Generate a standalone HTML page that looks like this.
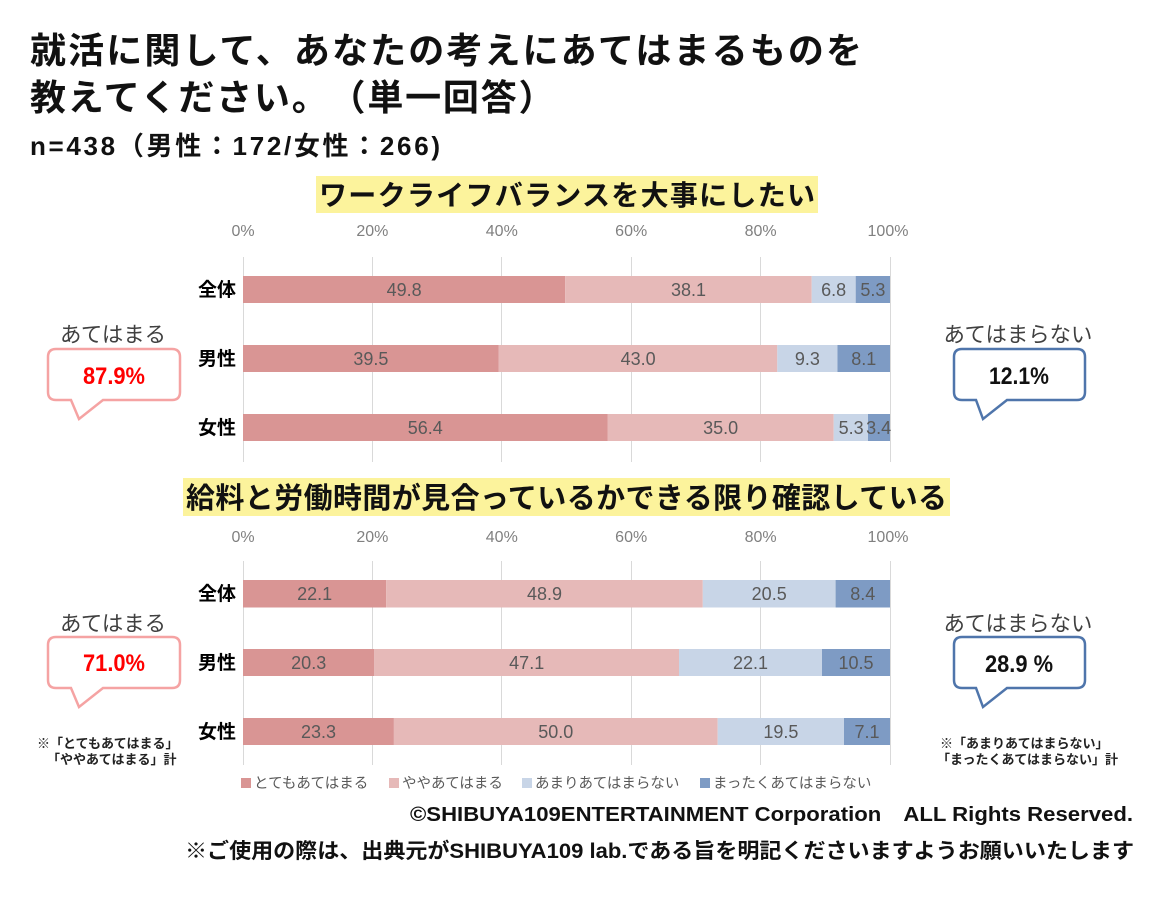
<!DOCTYPE html>
<html>
<head>
<meta charset="utf-8">
<style>
  html,body{margin:0;padding:0;background:#fff;}
  body{width:1160px;height:897px;overflow:hidden;}
  svg{display:block;}
  text{font-family:"Liberation Sans","Noto Sans CJK JP",sans-serif;text-spacing-trim:space-all;}
  .b{font-weight:bold;}
  .ax{font-size:16px;fill:#808080;text-anchor:middle;}
  .cat{font-size:19px;font-weight:bold;fill:#000;text-anchor:end;}
  .dl{font-size:18px;fill:#595959;text-anchor:middle;}
  .lg{font-size:14.5px;fill:#595959;}
  .cl{font-size:21.4px;fill:#404040;text-anchor:middle;}
  .note{font-size:13px;font-weight:bold;fill:#222;}
  .grid{stroke:#d9d9d9;stroke-width:1;}
</style>
</head>
<body>
<svg width="1160" height="897" viewBox="0 0 1160 897" xmlns="http://www.w3.org/2000/svg">
  <!-- Titles -->
  <text x="30" y="63" class="b" font-size="36" fill="#111" textLength="832" lengthAdjust="spacing">就活に関して、あなたの考えにあてはまるものを</text>
  <text x="30" y="110" class="b" font-size="36" fill="#111" letter-spacing="1.8">教えてください。（単一回答）</text>
  <text x="30" y="155" class="b" font-size="26" fill="#111" textLength="410" lengthAdjust="spacing">n=438（男性：172/女性：266)</text>

  <!-- Section 1 heading -->
  <rect x="316" y="176" width="502" height="37" fill="#fcf39c"/>
  <text x="319" y="205" class="b" font-size="28" fill="#111" textLength="496" lengthAdjust="spacing">ワークライフバランスを大事にしたい</text>

  <!-- Chart 1 axis -->
  <text x="243" y="236" class="ax">0%</text>
  <text x="372.4" y="236" class="ax">20%</text>
  <text x="501.8" y="236" class="ax">40%</text>
  <text x="631.2" y="236" class="ax">60%</text>
  <text x="760.6" y="236" class="ax">80%</text>
  <text x="888" y="236" class="ax">100%</text>
  <line class="grid" x1="243.5" y1="257" x2="243.5" y2="462"/>
  <line class="grid" x1="372.5" y1="257" x2="372.5" y2="462"/>
  <line class="grid" x1="501.5" y1="257" x2="501.5" y2="462"/>
  <line class="grid" x1="631.5" y1="257" x2="631.5" y2="462"/>
  <line class="grid" x1="760.5" y1="257" x2="760.5" y2="462"/>
  <line class="grid" x1="890.5" y1="257" x2="890.5" y2="462"/>

  <!-- Chart 1 bars -->
  <rect x="243" y="276" width="322.2" height="27" fill="#d99594"/>
  <rect x="565.2" y="276" width="246.5" height="27" fill="#e6b9b8"/>
  <rect x="811.7" y="276" width="44" height="27" fill="#c8d5e7"/>
  <rect x="855.7" y="276" width="34.3" height="27" fill="#7e9bc4"/>
  <text x="404.1" y="296" class="dl">49.8</text>
  <text x="688.5" y="296" class="dl">38.1</text>
  <text x="833.7" y="296" class="dl">6.8</text>
  <text x="872.9" y="296" class="dl">5.3</text>

  <rect x="243" y="345" width="255.8" height="27" fill="#d99594"/>
  <rect x="498.8" y="345" width="278.5" height="27" fill="#e6b9b8"/>
  <rect x="777.3" y="345" width="60.2" height="27" fill="#c8d5e7"/>
  <rect x="837.5" y="345" width="52.5" height="27" fill="#7e9bc4"/>
  <text x="370.9" y="365" class="dl">39.5</text>
  <text x="638.1" y="365" class="dl">43.0</text>
  <text x="807.4" y="365" class="dl">9.3</text>
  <text x="863.8" y="365" class="dl">8.1</text>

  <rect x="243" y="414" width="364.5" height="27" fill="#d99594"/>
  <rect x="607.5" y="414" width="226.2" height="27" fill="#e6b9b8"/>
  <rect x="833.7" y="414" width="34.3" height="27" fill="#c8d5e7"/>
  <rect x="868" y="414" width="22" height="27" fill="#7e9bc4"/>
  <text x="425.3" y="434" class="dl">56.4</text>
  <text x="720.6" y="434" class="dl">35.0</text>
  <text x="851.2" y="434" class="dl">5.3</text>
  <text x="878.6" y="434" class="dl">3.4</text>

  <text x="236" y="296" class="cat">全体</text>
  <text x="236" y="365" class="cat">男性</text>
  <text x="236" y="434" class="cat">女性</text>

  <!-- Chart 1 callouts -->
  <text x="113" y="342" class="cl">あてはまる</text>
  <path d="M56 349 H172 Q180 349 180 357 V392 Q180 400 172 400 H103 L79 419 L71 400 H56 Q48 400 48 392 V357 Q48 349 56 349 Z" fill="#fff" stroke="#f5a3a3" stroke-width="2.5"/>
  <text x="114" y="384" class="b" font-size="24" fill="#ff0000" text-anchor="middle" textLength="62" lengthAdjust="spacingAndGlyphs">87.9%</text>

  <text x="1018" y="342" class="cl">あてはまらない</text>
  <path d="M962 349 H1077 Q1085 349 1085 357 V392 Q1085 400 1077 400 H1007 L983 419 L976 400 H962 Q954 400 954 392 V357 Q954 349 962 349 Z" fill="#fff" stroke="#4f75ab" stroke-width="2.5"/>
  <text x="1019" y="384" class="b" font-size="24" fill="#111" text-anchor="middle" textLength="60" lengthAdjust="spacingAndGlyphs">12.1%</text>

  <!-- Section 2 heading -->
  <rect x="183" y="478" width="767" height="38" fill="#fcf39c"/>
  <text x="186" y="508" class="b" font-size="29" fill="#111" textLength="761" lengthAdjust="spacing">給料と労働時間が見合っているかできる限り確認している</text>

  <!-- Chart 2 axis -->
  <text x="243" y="542" class="ax">0%</text>
  <text x="372.4" y="542" class="ax">20%</text>
  <text x="501.8" y="542" class="ax">40%</text>
  <text x="631.2" y="542" class="ax">60%</text>
  <text x="760.6" y="542" class="ax">80%</text>
  <text x="888" y="542" class="ax">100%</text>
  <line class="grid" x1="243.5" y1="561" x2="243.5" y2="765"/>
  <line class="grid" x1="372.5" y1="561" x2="372.5" y2="765"/>
  <line class="grid" x1="501.5" y1="561" x2="501.5" y2="765"/>
  <line class="grid" x1="631.5" y1="561" x2="631.5" y2="765"/>
  <line class="grid" x1="760.5" y1="561" x2="760.5" y2="765"/>
  <line class="grid" x1="890.5" y1="561" x2="890.5" y2="765"/>

  <!-- Chart 2 bars -->
  <rect x="243" y="580" width="143.1" height="27.5" fill="#d99594"/>
  <rect x="386.1" y="580" width="316.7" height="27.5" fill="#e6b9b8"/>
  <rect x="702.8" y="580" width="132.8" height="27.5" fill="#c8d5e7"/>
  <rect x="835.6" y="580" width="54.4" height="27.5" fill="#7e9bc4"/>
  <text x="314.6" y="600" class="dl">22.1</text>
  <text x="544.5" y="600" class="dl">48.9</text>
  <text x="769.2" y="600" class="dl">20.5</text>
  <text x="862.8" y="600" class="dl">8.4</text>

  <rect x="243" y="649" width="131.3" height="27" fill="#d99594"/>
  <rect x="374.3" y="649" width="304.7" height="27" fill="#e6b9b8"/>
  <rect x="679" y="649" width="143" height="27" fill="#c8d5e7"/>
  <rect x="822" y="649" width="68" height="27" fill="#7e9bc4"/>
  <text x="308.7" y="669" class="dl">20.3</text>
  <text x="526.7" y="669" class="dl">47.1</text>
  <text x="750.5" y="669" class="dl">22.1</text>
  <text x="856" y="669" class="dl">10.5</text>

  <rect x="243" y="718" width="150.9" height="27" fill="#d99594"/>
  <rect x="393.9" y="718" width="323.8" height="27" fill="#e6b9b8"/>
  <rect x="717.7" y="718" width="126.3" height="27" fill="#c8d5e7"/>
  <rect x="844" y="718" width="46" height="27" fill="#7e9bc4"/>
  <text x="318.5" y="738" class="dl">23.3</text>
  <text x="555.8" y="738" class="dl">50.0</text>
  <text x="780.9" y="738" class="dl">19.5</text>
  <text x="867" y="738" class="dl">7.1</text>

  <text x="236" y="600" class="cat">全体</text>
  <text x="236" y="669" class="cat">男性</text>
  <text x="236" y="738" class="cat">女性</text>

  <!-- Chart 2 callouts -->
  <text x="113" y="631" class="cl">あてはまる</text>
  <path d="M56 637 H172 Q180 637 180 645 V680 Q180 688 172 688 H103 L79 707 L71 688 H56 Q48 688 48 680 V645 Q48 637 56 637 Z" fill="#fff" stroke="#f5a3a3" stroke-width="2.5"/>
  <text x="114" y="671" class="b" font-size="24" fill="#ff0000" text-anchor="middle" textLength="62" lengthAdjust="spacingAndGlyphs">71.0%</text>

  <text x="1018" y="631" class="cl">あてはまらない</text>
  <path d="M962 637 H1077 Q1085 637 1085 645 V680 Q1085 688 1077 688 H1007 L983 707 L976 688 H962 Q954 688 954 680 V645 Q954 637 962 637 Z" fill="#fff" stroke="#4f75ab" stroke-width="2.5"/>
  <text x="1019" y="672" class="b" font-size="24" fill="#111" text-anchor="middle" textLength="68" lengthAdjust="spacingAndGlyphs">28.9 %</text>

  <!-- Notes -->
  <text x="37" y="748" class="note">※「とてもあてはまる」</text>
  <text x="47" y="764" class="note">「ややあてはまる」計</text>
  <text x="940" y="748" class="note">※「あまりあてはまらない」</text>
  <text x="937" y="764" class="note">「まったくあてはまらない」計</text>

  <!-- Legend -->
  <rect x="241" y="778" width="10" height="10" fill="#d99594"/>
  <text x="254" y="788" class="lg">とてもあてはまる</text>
  <rect x="389" y="778" width="10" height="10" fill="#e6b9b8"/>
  <text x="402" y="788" class="lg">ややあてはまる</text>
  <rect x="522" y="778" width="10" height="10" fill="#c8d5e7"/>
  <text x="535" y="788" class="lg">あまりあてはまらない</text>
  <rect x="700" y="778" width="10" height="10" fill="#7e9bc4"/>
  <text x="713" y="788" class="lg">まったくあてはまらない</text>

  <!-- Footer -->
  <text x="410" y="821" class="b" font-size="20" fill="#111" textLength="723" lengthAdjust="spacingAndGlyphs">©SHIBUYA109ENTERTAINMENT Corporation　ALL Rights Reserved.</text>
  <text x="185" y="858" class="b" font-size="21" fill="#111" textLength="949" lengthAdjust="spacingAndGlyphs">※ご使用の際は、出典元がSHIBUYA109 lab.である旨を明記くださいますようお願いいたします</text>
</svg>
</body>
</html>
